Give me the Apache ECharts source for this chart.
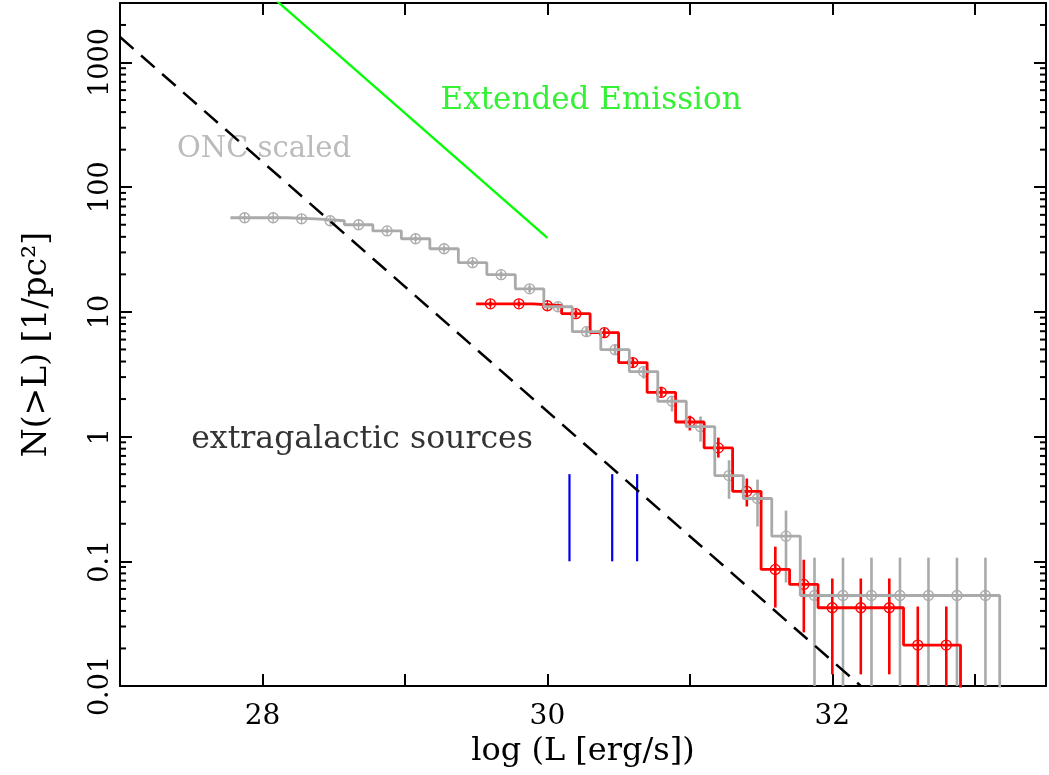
<!DOCTYPE html>
<html>
<head>
<meta charset="utf-8">
<script src="https://cdn.jsdelivr.net/npm/echarts@6/dist/echarts.min.js"></script>
<style>
  html, body { margin: 0; padding: 0; background: #fff; }
  #chart { width: 1049px; height: 775px; }
</style>
</head>
<body>
<div id="chart"></div>
<script>
// cumulative source density, red = this field, gray = ONC scaled
const redX = [29.6, 29.8, 30.0, 30.2, 30.4, 30.6, 30.8, 31.0, 31.2, 31.4, 31.6, 31.8, 32.0, 32.2, 32.4, 32.6, 32.8];
const redY = [11.6, 11.6, 11.2, 9.67, 6.81, 3.92, 2.26, 1.31, 0.812, 0.364, 0.086, 0.0652, 0.0424, 0.0424, 0.0424, 0.0213, 0.0213];
const redLo = [11.1, 11.1, 10.7, 9.1, 6.3, 3.57, 2.09, 1.12, 0.679, 0.275, 0.0426, 0.0269, 0.0124, 0.0124, 0.0124, 0.001, 0.001];
const redHi = [12.1, 12.1, 11.7, 10.3, 7.35, 4.29, 2.51, 1.47, 0.982, 0.461, 0.131, 0.103, 0.0728, 0.0728, 0.0728, 0.0434, 0.0434];

const grayX = [27.875, 28.075, 28.275, 28.475, 28.675, 28.875, 29.075, 29.275, 29.475, 29.675, 29.875,
  30.075, 30.275, 30.475, 30.675, 30.875, 31.075, 31.275, 31.475, 31.675, 31.875,
  32.075, 32.275, 32.475, 32.675, 32.875, 33.075];
const grayY = [56.9, 56.9, 55.8, 53.8, 50.0, 44.6, 38.6, 32.1, 24.8, 19.9, 15.3,
  11.0, 6.94, 4.98, 3.32, 1.92, 1.20, 0.487, 0.319, 0.159, 0.0532,
  0.0532, 0.0532, 0.0532, 0.0532, 0.0532, 0.0532];
const grayLo = [55.5, 55.5, 54.4, 52.4, 48.6, 43.2, 37.2, 30.8, 23.7, 18.9, 14.4,
  10.3, 6.4, 4.5, 2.92, 1.59, 0.912, 0.317, 0.190, 0.0676, 0.001,
  0.001, 0.001, 0.001, 0.001, 0.001, 0.001];
const grayHi = [58.3, 58.3, 57.2, 55.2, 51.4, 46.0, 40.0, 33.4, 25.9, 20.9, 16.2,
  11.7, 7.5, 5.5, 3.57, 2.09, 1.45, 0.646, 0.452, 0.255, 0.107,
  0.107, 0.107, 0.107, 0.107, 0.107, 0.107];

// model lines
const extragalactic = [[27.0, 1600], [32.2, 0.01]];
const extended = [[28.0, 3930], [30.0, 39.3]];

// blue markers
const blueX = [30.155, 30.455, 30.63];
const blueRange = [0.1, 0.5];

const labels = [
  { text: 'Extended Emission', x: 29.25, y: 492, color: '#00ee00', size: 31 },
  { text: 'ONC scaled', x: 27.4, y: 199, color: '#aaaaaa', size: 29 },
  { text: 'extragalactic sources', x: 27.5, y: 0.946, color: '#000000', size: 31.5 }
];

const xMin = 27, xMax = 33.5, yMin = 0.01, yMax = 3000;
const FONT = 'DejaVu Serif';
const RED = '#ff0000', GRAY = '#aaaaaa';

// histogram outline: each point covers +-0.1, ends by dropping off the axis
function steps(xs, ys) {
  const pts = [];
  xs.forEach((x, i) => {
    pts.push([x - 0.1, ys[i]]);
    pts.push([x + 0.1, ys[i]]);
  });
  pts.push([xs[xs.length - 1] + 0.1, 1e-4]);
  return pts;
}

function markerSeries(xs, ys, lo, hi, color) {
  return {
    type: 'custom',
    data: xs.map((x, i) => [x, ys[i], lo[i], hi[i]]),
    renderItem(params, api) {
      const cs = params.coordSys;
      const bottom = cs.y + cs.height;
      const p = api.coord([api.value(0), api.value(1)]);
      const pl = api.coord([api.value(0), api.value(2)]);
      const ph = api.coord([api.value(0), api.value(3)]);
      const r = 5;
      return {
        type: 'group',
        children: [
          { type: 'line', shape: { x1: p[0], y1: Math.min(pl[1], bottom), x2: p[0], y2: ph[1] }, style: { stroke: color, lineWidth: 2.6 } },
          { type: 'circle', shape: { cx: p[0], cy: p[1], r: r }, style: { fill: 'none', stroke: color, lineWidth: 1.3 } },
          { type: 'line', shape: { x1: p[0] - r, y1: p[1], x2: p[0] + r, y2: p[1] }, style: { stroke: color, lineWidth: 1.3 } },
          { type: 'line', shape: { x1: p[0], y1: p[1] - r, x2: p[0], y2: p[1] + r }, style: { stroke: color, lineWidth: 1.3 } }
        ]
      };
    }
  };
}

const minorTicks = [];
for (let k = -2; k <= 3; k++) {
  for (let m = 2; m <= 9; m++) {
    const v = m * Math.pow(10, k);
    if (v < yMax) minorTicks.push([xMin, v]);
  }
}

const chart = echarts.init(document.getElementById('chart'), null, { renderer: 'canvas' });

const axisLine = { lineStyle: { color: '#000', width: 2 } };
const majorTick = { inside: true, length: 12, lineStyle: { color: '#000', width: 2 } };

chart.setOption({
  animation: false,
  backgroundColor: '#fff',
  grid: { left: 120, right: 2, top: 2, bottom: 89 },
  xAxis: [
    {
      type: 'value', min: xMin, max: xMax, interval: 1, position: 'bottom',
      axisLine: axisLine, axisTick: majorTick, splitLine: { show: false },
      axisLabel: {
        formatter: v => (v % 2 === 0 ? String(v) : ''),
        fontFamily: FONT, fontSize: 28, color: '#000', margin: 17
      },
      name: 'log (L [erg/s])', nameLocation: 'middle', nameGap: 50,
      nameTextStyle: { fontFamily: FONT, fontSize: 32, color: '#000' }
    },
    {
      type: 'value', min: xMin, max: xMax, interval: 1, position: 'top',
      axisLine: axisLine, axisTick: majorTick, splitLine: { show: false },
      axisLabel: { show: false }
    }
  ],
  yAxis: [
    {
      type: 'log', logBase: 10, min: yMin, max: yMax, position: 'left',
      axisLine: axisLine, axisTick: majorTick, splitLine: { show: false },
      axisLabel: {
        rotate: 90, margin: 6, fontFamily: FONT, fontSize: 27, color: '#000',
        formatter: v => {
          const l = Math.log10(v);
          if (Math.abs(l - Math.round(l)) > 1e-6) return '';
          return l >= 0 ? String(Math.round(v)) : v.toFixed(-Math.round(l));
        }
      },
      name: 'N(>L) [1/pc²]', nameLocation: 'middle', nameRotate: 90, nameGap: 66,
      nameTextStyle: { fontFamily: FONT, fontSize: 33, color: '#000' }
    },
    {
      type: 'log', logBase: 10, min: yMin, max: yMax, position: 'right',
      axisLine: axisLine, axisTick: majorTick, splitLine: { show: false },
      axisLabel: { show: false }
    }
  ],
  series: [
    {
      type: 'custom',
      data: minorTicks,
      silent: true,
      renderItem(params, api) {
        const v = api.value(1);
        const l = api.coord([xMin, v]);
        const r = api.coord([xMax, v]);
        const st = { stroke: '#000', lineWidth: 2 };
        return {
          type: 'group',
          children: [
            { type: 'line', shape: { x1: l[0], y1: l[1], x2: l[0] + 6, y2: l[1] }, style: st },
            { type: 'line', shape: { x1: r[0] - 6, y1: r[1], x2: r[0], y2: r[1] }, style: st }
          ]
        };
      }
    },
    {
      type: 'line', data: extragalactic, showSymbol: false, clip: true,
      lineStyle: { color: '#000', width: 2.5, type: [18, 10] }
    },
    {
      type: 'line', data: extended, showSymbol: false, clip: true,
      lineStyle: { color: '#00ff00', width: 2.3 }
    },
    {
      type: 'custom',
      data: blueX.map(x => [x, blueRange[0], blueRange[1]]),
      renderItem(params, api) {
        const a = api.coord([api.value(0), api.value(1)]);
        const b = api.coord([api.value(0), api.value(2)]);
        return { type: 'line', shape: { x1: a[0], y1: a[1], x2: b[0], y2: b[1] }, style: { stroke: '#0000ee', lineWidth: 2.2 } };
      }
    },
    {
      type: 'line', data: steps(redX, redY), showSymbol: false, clip: true,
      lineStyle: { color: RED, width: 2.8 }
    },
    markerSeries(redX, redY, redLo, redHi, RED),
    {
      type: 'line', data: steps(grayX, grayY), showSymbol: false, clip: true,
      lineStyle: { color: GRAY, width: 2.8 }
    },
    markerSeries(grayX, grayY, grayLo, grayHi, GRAY),
    {
      type: 'scatter', symbolSize: 0, silent: true,
      data: labels.map(d => ({
        value: [d.x, d.y], name: d.text,
        label: { color: d.color, fontSize: d.size }
      })),
      label: {
        show: true, position: 'right', distance: 0, formatter: '{b}',
        fontFamily: FONT
      }
    }
  ]
});
</script>
</body>
</html>
